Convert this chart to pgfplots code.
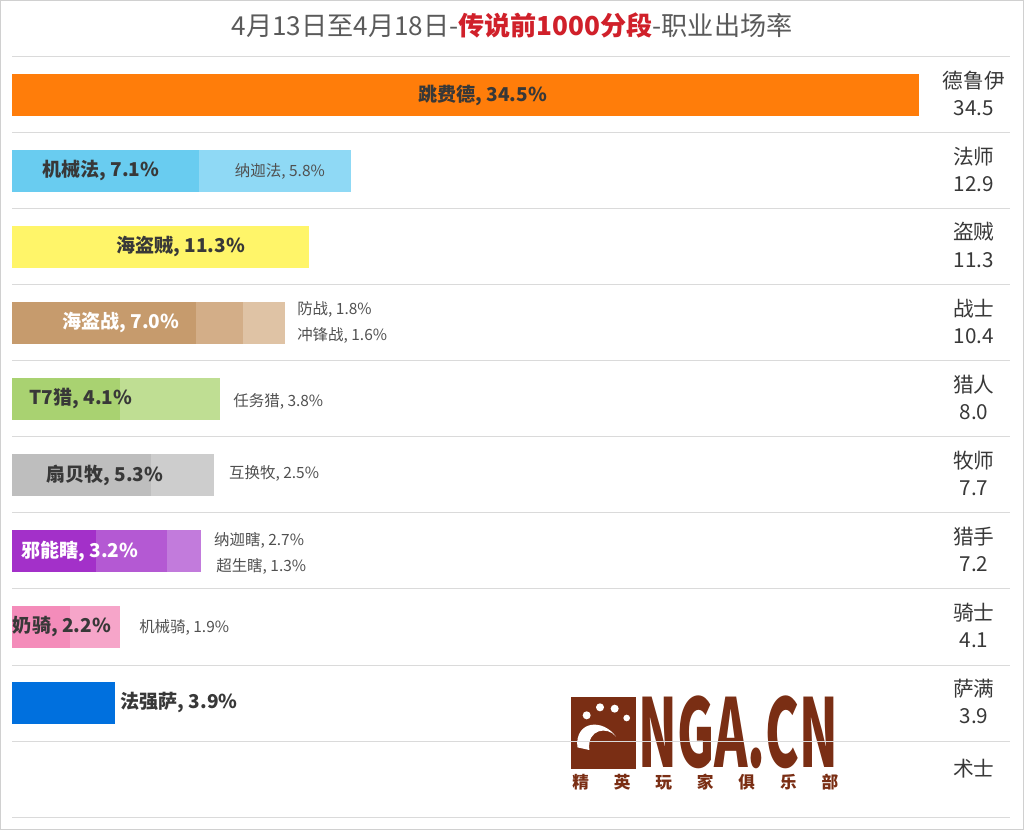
\documentclass[border=0pt]{standalone}
\usepackage{fontspec}
\setmainfont{Noto Sans CJK SC}
\usepackage{pgfplots}
\pgfplotsset{compat=1.18}
\definecolor{framegray}{HTML}{D0D0D0}
\definecolor{gridgray}{HTML}{DADADA}
\definecolor{dark}{HTML}{383838}
\definecolor{subgray}{HTML}{505050}
\definecolor{titlegray}{HTML}{5A5A5A}
\definecolor{titlered}{HTML}{D0202A}
\definecolor{druid}{HTML}{FF7D0A}
\definecolor{mageA}{HTML}{69CCF0}
\definecolor{mageB}{HTML}{8FD9F5}
\definecolor{rogue}{HTML}{FFF569}
\definecolor{warA}{HTML}{C69B6D}
\definecolor{warB}{HTML}{D3AE88}
\definecolor{warC}{HTML}{DFC3A5}
\definecolor{huntA}{HTML}{A9D271}
\definecolor{huntB}{HTML}{BFDE93}
\definecolor{priA}{HTML}{BEBEBE}
\definecolor{priB}{HTML}{CDCDCD}
\definecolor{lockA}{HTML}{A330C9}
\definecolor{lockB}{HTML}{B459D3}
\definecolor{lockC}{HTML}{C27BDC}
\definecolor{palA}{HTML}{F48CBA}
\definecolor{palB}{HTML}{F6A5C9}
\definecolor{sham}{HTML}{0070DE}
\definecolor{nga}{HTML}{7A2E14}
\begin{document}
\begin{tikzpicture}[x=1pt,y=1pt]
\useasboundingbox (0,0) rectangle (768,622.5);
\draw[framegray, line width=0.75pt] (0.375,0.375) rectangle (767.625,622.125);
% title
\node[font=\fontsize{19.6}{22}\selectfont, inner sep=0] at (384,603.5)
 {\textcolor{titlegray}{4月13日至4月18日-}\textcolor{titlered}{\bfseries 传说前1000分段}\textcolor{titlegray}{-职业出场率}};
% watermark logo
\fill[nga] (428.25,46) rectangle (477,99.75);
\fill[white] (433,62) .. controls (431,82) and (452,84) .. (462,70) .. controls (456,78) and (440,76) .. (442,60) -- cycle;
\fill[white] (440,86) circle (3pt);
\fill[white] (450,92) circle (3pt);
\fill[white] (461,91) circle (3pt);
\fill[white] (470,84) circle (2.5pt);
\node[anchor=south west, inner sep=0, text=nga] at (479,46)
 {\resizebox{149.5pt}{53.75pt}{\bfseries NGA.CN}};
\node[anchor=north west, inner sep=0, text=nga, font=\bfseries\fontsize{12.5}{13}\selectfont] at (429,42.5)
 {\makebox[199.5pt][s]{精\hfill 英\hfill 玩\hfill 家\hfill 俱\hfill 乐\hfill 部}};
\begin{axis}[
  at={(9pt,9.75pt)}, anchor=south west,
  scale only axis, width=748.5pt, height=570pt,
  xbar, bar shift=0pt, bar width=31.5pt,
  xmin=0, xmax=37.96, ymin=-0.5, ymax=9.5, y dir=reverse,
  axis line style={draw=none}, tick style={draw=none},
  xtick=\empty, ytick={-0.5,0.5,1.5,2.5,3.5,4.5,5.5,6.5,7.5,8.5,9.5}, yticklabels={},
  ymajorgrids, grid style={gridgray, line width=0.75pt},
  clip=false,
  every axis plot/.append style={draw=none},
]
\addplot[fill=druid] coordinates {(34.5,0)};
\addplot[fill=mageB] coordinates {(12.9,1)};
\addplot[fill=mageA] coordinates {(7.1,1)};
\addplot[fill=rogue] coordinates {(11.3,2)};
\addplot[fill=warC] coordinates {(10.4,3)};
\addplot[fill=warB] coordinates {(8.8,3)};
\addplot[fill=warA] coordinates {(7.0,3)};
\addplot[fill=huntB] coordinates {(7.9,4)};
\addplot[fill=huntA] coordinates {(4.1,4)};
\addplot[fill=priB] coordinates {(7.7,5)};
\addplot[fill=priA] coordinates {(5.3,5)};
\addplot[fill=lockC] coordinates {(7.2,6)};
\addplot[fill=lockB] coordinates {(5.9,6)};
\addplot[fill=lockA] coordinates {(3.2,6)};
\addplot[fill=palB] coordinates {(4.1,7)};
\addplot[fill=palA] coordinates {(2.2,7)};
\addplot[fill=sham] coordinates {(3.9,8)};
% main labels
\begin{scope}[every node/.style={font=\bfseries\fontsize{14.3}{16}\selectfont, text=dark, inner sep=0}]
\node at (axis cs:17.9,0) {跳费德, 34.5\%};
\node at (axis cs:3.38,1) {机械法, 7.1\%};
\node at (axis cs:6.42,2) {海盗贼, 11.3\%};
\node[text=white] at (axis cs:4.14,3) {海盗战, 7.0\%};
\node at (axis cs:2.62,4) {T7猎, 4.1\%};
\node at (axis cs:3.53,5) {扇贝牧, 5.3\%};
\node[text=white] at (axis cs:2.58,6) {邪能瞎, 3.2\%};
\node at (axis cs:1.9,7) {奶骑, 2.2\%};
\node at (axis cs:6.35,8) {法强萨, 3.9\%};
\end{scope}
% sub labels
\begin{scope}[every node/.style={font=\fontsize{11.6}{13}\selectfont, text=subgray, inner sep=0}]
\node at (axis cs:10.19,1) {纳迦法, 5.8\%};
\node[anchor=west, yshift=10.5pt] at (axis cs:10.84,3) {防战, 1.8\%};
\node[anchor=west, yshift=-9pt] at (axis cs:10.84,3) {冲锋战, 1.6\%};
\node[anchor=west, yshift=-1.5pt] at (axis cs:8.41,4) {任务猎, 3.8\%};
\node[anchor=west, yshift=1.5pt] at (axis cs:8.25,5) {互换牧, 2.5\%};
\node[anchor=west, yshift=8.25pt] at (axis cs:7.68,6) {纳迦瞎, 2.7\%};
\node[anchor=west, yshift=-11.25pt] at (axis cs:7.76,6) {超生瞎, 1.3\%};
\node[anchor=west, yshift=0pt] at (axis cs:4.83,7) {机械骑, 1.9\%};
\end{scope}
% right labels
\begin{scope}[every node/.style={font=\fontsize{15.5}{17}\selectfont, text=dark, inner sep=0}]
\node[yshift=11pt] at (axis cs:36.59,0) {德鲁伊};
\node[yshift=-10pt] at (axis cs:36.59,0) {34.5};
\node[yshift=11pt] at (axis cs:36.59,1) {法师};
\node[yshift=-10pt] at (axis cs:36.59,1) {12.9};
\node[yshift=11pt] at (axis cs:36.59,2) {盗贼};
\node[yshift=-10pt] at (axis cs:36.59,2) {11.3};
\node[yshift=11pt] at (axis cs:36.59,3) {战士};
\node[yshift=-10pt] at (axis cs:36.59,3) {10.4};
\node[yshift=11pt] at (axis cs:36.59,4) {猎人};
\node[yshift=-10pt] at (axis cs:36.59,4) {8.0};
\node[yshift=11pt] at (axis cs:36.59,5) {牧师};
\node[yshift=-10pt] at (axis cs:36.59,5) {7.7};
\node[yshift=11pt] at (axis cs:36.59,6) {猎手};
\node[yshift=-10pt] at (axis cs:36.59,6) {7.2};
\node[yshift=11pt] at (axis cs:36.59,7) {骑士};
\node[yshift=-10pt] at (axis cs:36.59,7) {4.1};
\node[yshift=11pt] at (axis cs:36.59,8) {萨满};
\node[yshift=-10pt] at (axis cs:36.59,8) {3.9};
\node[yshift=8pt] at (axis cs:36.59,9) {术士};
\end{scope}
\end{axis}
\end{tikzpicture}
\end{document}
